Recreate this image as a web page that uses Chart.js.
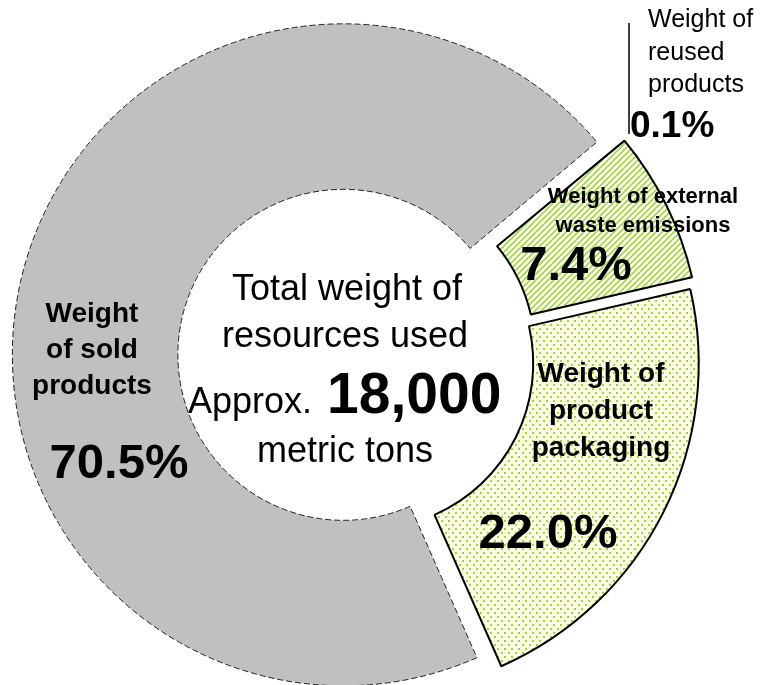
<!DOCTYPE html>
<html>
<head>
<meta charset="utf-8">
<script src="https://cdn.jsdelivr.net/npm/chart.js@4"></script>
<style>
  body { margin: 0; background: #fff; }
</style>
</head>
<body>
<canvas id="resourceChart" width="765" height="685"></canvas>
<script>
// share of total resource weight, in percent
var categories = ['Weight of sold products', 'Weight of reused products', 'Weight of external waste emissions', 'Weight of product packaging'];
var shares = [70.5, 0.1, 7.4, 22.0];
var totalWeight = '18,000';

// how far each slice is pulled out from the centre, px
var explode = [14, 14, 14, 12];

var FONT = '"Liberation Sans", Arial, sans-serif';

function stripePattern() {
    var c = document.createElement('canvas');
    c.width = 6; c.height = 6;
    var g = c.getContext('2d');
    g.fillStyle = '#ffffff';
    g.fillRect(0, 0, 6, 6);
    g.strokeStyle = '#a6d452';
    g.lineWidth = 1.7;
    g.beginPath();
    g.moveTo(-1, 7); g.lineTo(7, -1);
    g.moveTo(-1, 1); g.lineTo(1, -1);
    g.moveTo(5, 7); g.lineTo(7, 5);
    g.stroke();
    return g.createPattern(c, 'repeat');
}

function dotPattern() {
    var c = document.createElement('canvas');
    c.width = 7; c.height = 8;
    var g = c.getContext('2d');
    g.fillStyle = '#fdfde4';
    g.fillRect(0, 0, 7, 8);
    g.fillStyle = '#a2d24a';
    g.fillRect(0, 0, 2, 2);
    g.fillRect(4, 4, 2, 2);
    return g.createPattern(c, 'repeat');
}

var fills = ['#c0c0c0', 'rgba(0,0,0,0)', stripePattern(), dotPattern()];

// shift each arc along its mid angle while it is drawn
var explodePlugin = {
    id: 'explode',
    beforeDatasetDraw: function (chart, args) {
        args.meta.data.forEach(function (arc, i) {
            var mid = (arc.startAngle + arc.endAngle) / 2;
            arc._baseX = arc.x;
            arc._baseY = arc.y;
            arc.x += Math.cos(mid) * explode[i];
            arc.y += Math.sin(mid) * explode[i];
        });
    },
    afterDatasetDraw: function (chart, args) {
        args.meta.data.forEach(function (arc) {
            arc.x = arc._baseX;
            arc.y = arc._baseY;
        });
    }
};

function textLines(ctx, lines, x, y, lineHeight) {
    lines.forEach(function (t, i) {
        ctx.fillText(t, x, y + i * lineHeight);
    });
}

var labelPlugin = {
    id: 'sliceLabels',
    afterDraw: function (chart) {
        var ctx = chart.ctx;
        var pct = shares.map(function (v) { return v.toFixed(1) + '%'; });
        ctx.save();
        ctx.fillStyle = '#000';
        ctx.textBaseline = 'alphabetic';

        // centre
        ctx.textAlign = 'center';
        ctx.font = '36px ' + FONT;
        ctx.fillText('Total weight of', 347, 300);
        ctx.fillText('resources used', 345, 347);
        ctx.fillText('metric tons', 345, 462);
        ctx.textAlign = 'left';
        ctx.fillText('Approx.', 188, 413);
        ctx.font = 'bold 57px ' + FONT;
        ctx.fillText(totalWeight, 327, 413);

        // sold products
        ctx.textAlign = 'center';
        ctx.font = 'bold 28px ' + FONT;
        textLines(ctx, ['Weight', 'of sold', 'products'], 92, 322, 36);
        ctx.font = 'bold 49px ' + FONT;
        ctx.fillText(pct[0], 119, 478);

        // product packaging
        ctx.font = 'bold 28px ' + FONT;
        textLines(ctx, ['Weight of', 'product', 'packaging'], 601, 382, 37);
        ctx.font = 'bold 49px ' + FONT;
        ctx.fillText(pct[3], 548, 548);

        // external waste
        ctx.font = 'bold 22px ' + FONT;
        textLines(ctx, ['Weight of external', 'waste emissions'], 643, 203, 29);
        ctx.font = 'bold 49px ' + FONT;
        ctx.fillText(pct[2], 576, 280);

        // reused products, with leader line
        ctx.textAlign = 'left';
        ctx.font = '25px ' + FONT;
        textLines(ctx, ['Weight of', 'reused', 'products'], 648, 27, 32.5);
        ctx.font = 'bold 37px ' + FONT;
        ctx.fillText(pct[1], 630, 137);
        ctx.strokeStyle = '#000';
        ctx.lineWidth = 1.5;
        ctx.beginPath();
        ctx.moveTo(629, 23);
        ctx.lineTo(629, 134);
        ctx.stroke();
        ctx.restore();
    }
};

new Chart(document.getElementById('resourceChart').getContext('2d'), {
    type: 'doughnut',
    data: {
        labels: categories,
        datasets: [{
            data: shares,
            backgroundColor: fills,
            borderColor: function (c) { return c.dataIndex === 0 ? '#222222' : '#000000'; },
            borderWidth: function (c) {
                if (c.dataIndex === 0) return 1;
                return c.dataIndex === 1 ? 0 : 2;
            },
            borderDash: function (c) { return c.dataIndex === 0 ? [6, 3] : []; },
            clip: false
        }]
    },
    options: {
        responsive: false,
        animation: false,
        rotation: 156.2,
        radius: 331,
        cutout: '50%',
        layout: { padding: { left: 0, right: 51, top: 31, bottom: 0 } },
        plugins: {
            legend: { display: false },
            tooltip: { enabled: false }
        }
    },
    plugins: [explodePlugin, labelPlugin]
});
</script>
</body>
</html>
